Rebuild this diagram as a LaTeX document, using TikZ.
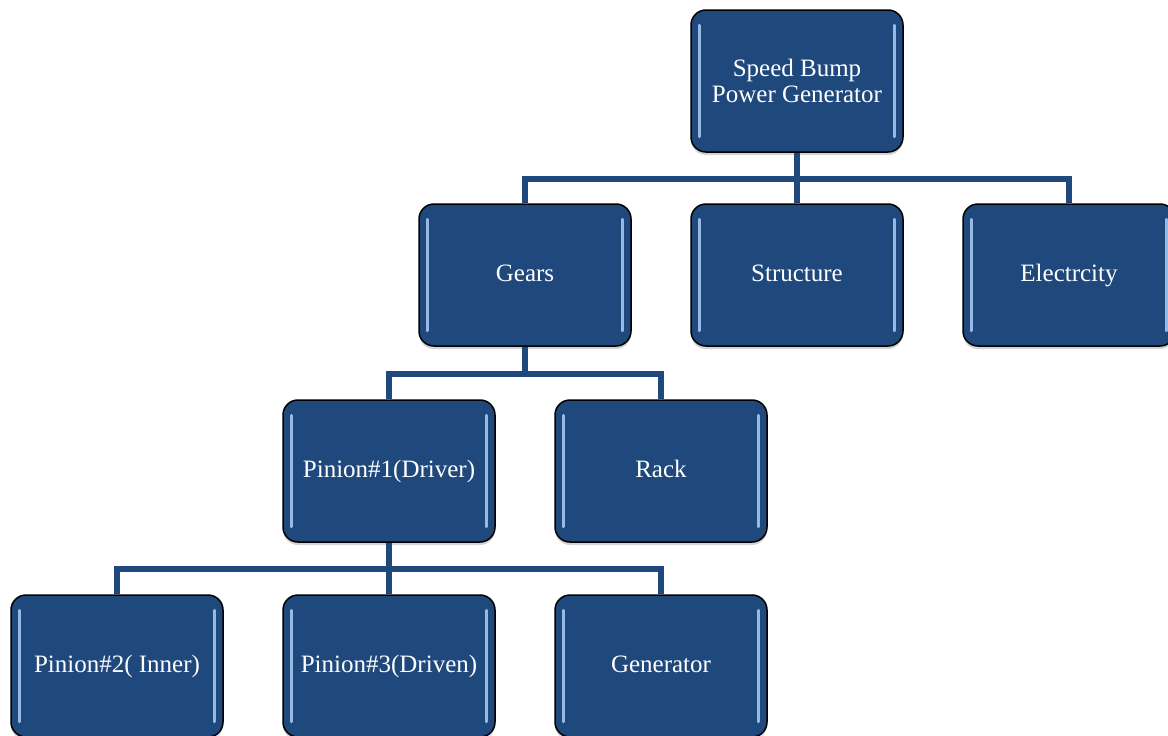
\documentclass[tikz,border=0pt]{standalone}
\usepackage{fontspec}
\setmainfont{Liberation Serif}
\usetikzlibrary{positioning,shadows}
\definecolor{boxfill}{RGB}{31,73,125}
\definecolor{linecol}{RGB}{31,73,125}
\definecolor{hilite}{RGB}{150,185,230}
\tikzset{
  box/.style={draw=black, line width=1.5pt, fill=boxfill, rounded corners=15pt,
    minimum width=212pt, minimum height=142pt, inner sep=0pt,
    text=white, font=\fontsize{25}{26}\selectfont, align=center,
    drop shadow={shadow xshift=0pt, shadow yshift=-3pt, opacity=0.35, fill=gray}},
  oneline/.style={text height=15pt, text depth=3pt},
  conn/.style={draw=linecol, line width=6pt}
}
\begin{document}
\begin{tikzpicture}[x=1pt,y=-1pt]
\useasboundingbox (0,0) rectangle (1168,736);
\begin{scope}
\clip (0,0) rectangle (1168,736);
\node[box] (top) at (797,81) {Speed Bump\\Power Generator};
\node[box,oneline] (gears) at (525,275) {Gears};
\node[box,oneline] (struct) at (797,275) {Structure};
\node[box,oneline] (elec) at (1069,275) {Electrcity};
\node[box,oneline] (p1) at (389,471) {Pinion\#1(Driver)};
\node[box,oneline] (rack) at (661,471) {Rack};
\node[box,oneline] (p2) at (117,666) {Pinion\#2( Inner)};
\node[box,oneline] (p3) at (389,666) {Pinion\#3(Driven)};
\node[box,oneline] (gen) at (661,666) {Generator};
\foreach \n in {top,gears,struct,elec,p1,rack,p2,p3,gen}{
  \draw[hilite, line width=3pt, line cap=round]
    ([xshift=9pt,yshift=-16pt]\n.north west) -- ([xshift=9pt,yshift=16pt]\n.south west);
  \draw[hilite, line width=3pt, line cap=round]
    ([xshift=-9pt,yshift=-16pt]\n.north east) -- ([xshift=-9pt,yshift=16pt]\n.south east);
}
\coordinate (j1) at (797,179);
\coordinate (j2) at (525,374);
\coordinate (j3) at (389,569);
\draw[conn] (top.south) -- (j1);
\draw[conn] (gears.north) |- (j1) -| (elec.north);
\draw[conn] (j1) -- (struct.north);
\draw[conn] (gears.south) -- (j2);
\draw[conn] (p1.north) |- (j2) -| (rack.north);
\draw[conn] (p1.south) -- (j3);
\draw[conn] (p2.north) |- (j3) -| (gen.north);
\draw[conn] (j3) -- (p3.north);
\end{scope}
\end{tikzpicture}
\end{document}
